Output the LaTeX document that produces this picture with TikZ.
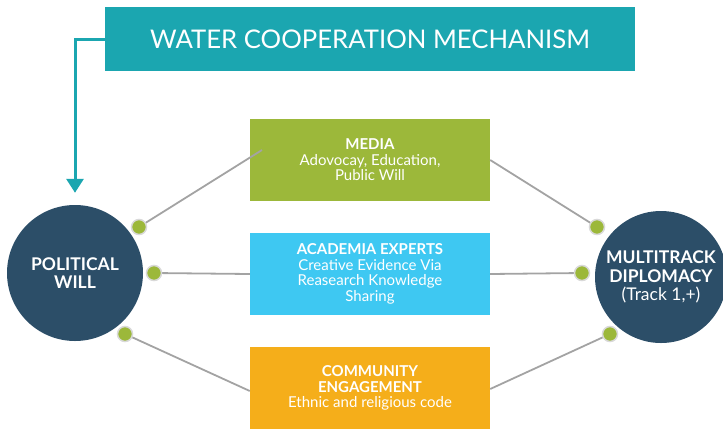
\documentclass[tikz,border=0pt]{standalone}
\usepackage{fontspec}
\setmainfont{Lato}
\usepackage{xcolor}
\usetikzlibrary{shapes,arrows.meta,positioning,calc}

\definecolor{teal1}{HTML}{1BA6B0}
\definecolor{navy1}{HTML}{2C4E68}
\definecolor{green1}{HTML}{9CB83A}
\definecolor{sky1}{HTML}{3EC8F2}
\definecolor{amber1}{HTML}{F5AE1A}
\definecolor{line1}{HTML}{A3A3A3}

\begin{document}
\begin{tikzpicture}[
    x=1pt, y=-1pt,
    titlebox/.style={rectangle, fill=teal1, text=white, minimum width=530pt, minimum height=64pt, font=\fontsize{25.7}{30}\selectfont},
    hub/.style={circle, fill=navy1, text=white, align=center, minimum size=136pt, inner sep=0pt, font=\fontsize{17.5}{18.7}\selectfont\bfseries},
    box1/.style={rectangle, fill=green1, text=white, align=center, minimum width=240pt, minimum height=82pt, font=\fontsize{15}{15.5}\selectfont},
    box2/.style={box1, fill=sky1},
    box3/.style={box1, fill=amber1},
    dot/.style={circle, fill=green1, draw=black!15, line width=1.5pt, minimum size=15pt, inner sep=0pt},
    link/.style={draw=line1, line width=1.8pt},
    arrow/.style={-{Triangle[width=17pt,length=14pt]}, line width=3pt, draw=teal1}
]
    \useasboundingbox (0,0) rectangle (723,429);

    \node [titlebox] (title) at (370,39) {WATER COOPERATION MECHANISM};

    \node [hub] (pw) at (75,273) {POLITICAL\\WILL};
    \node [hub, minimum size=132pt] (mt) at (661,277) {MULTITRACK\\DIPLOMACY\\{\mdseries (Track 1,+)}};

    \node [box1] (media) at (370,160) {\textbf{MEDIA}\\Adovocay, Education,\\Public Will};
    \node [box2] (acad) at (370,274) {\textbf{ACADEMIA EXPERTS}\\Creative Evidence Via\\Reasearch Knowledge\\Sharing};
    \node [box3] (comm) at (370,388) {\textbf{COMMUNITY}\\\textbf{ENGAGEMENT}\\Ethnic and religious code};

    % connectors between the hubs and the three boxes
    \coordinate (m1) at (262,150);
    \draw [link] (m1) -- (139,227) node (d1) {};
    \draw [link] (acad.west) -- (154,273) node (d2) {};
    \draw [link] (comm.west |- 0,391) -- (125,334) node (d3) {};
    \draw [link] (media.east |- 0,160) -- (597,227) node (d4) {};
    \draw [link] (acad.east) -- (582,273) node (d5) {};
    \draw [link] (comm.east |- 0,389) -- (610,334) node (d6) {};

    \foreach \n in {d1,d2,d3,d4,d5,d6}
        \node [dot] at (\n) {};

    \draw [arrow, shorten >=12pt] (title.west) -| (pw.north);
\end{tikzpicture}
\end{document}
